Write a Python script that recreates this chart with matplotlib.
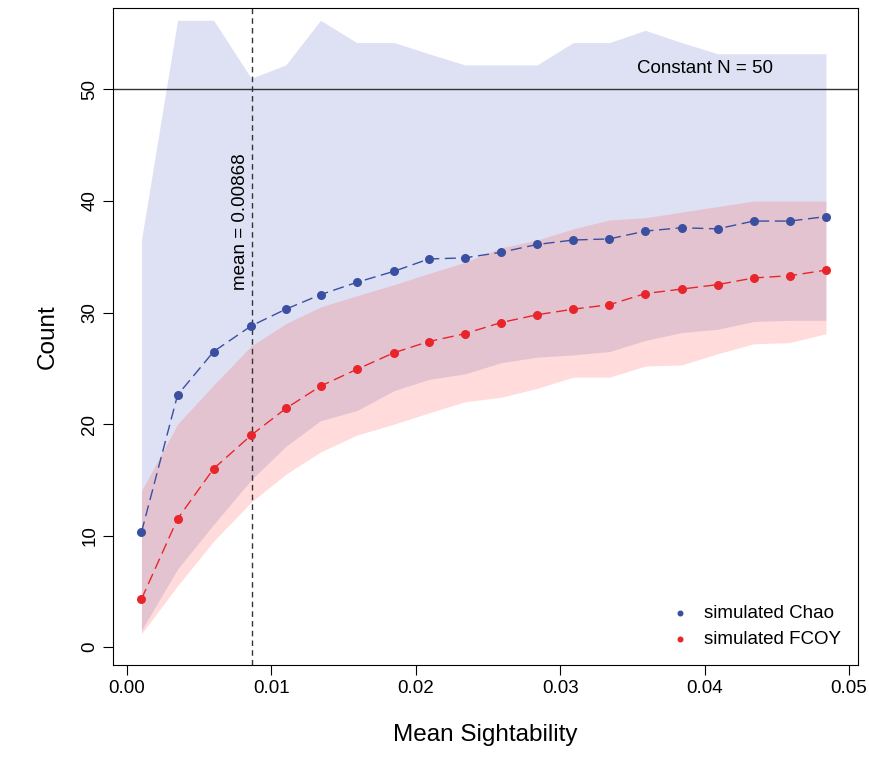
import matplotlib.pyplot as plt
import numpy as np

x = [0.0010, 0.0035, 0.0060, 0.0086, 0.0110, 0.0134, 0.0159, 0.0185, 0.0209, 0.0234,
     0.0259, 0.0284, 0.0309, 0.0334, 0.0359, 0.0384, 0.0409, 0.0434, 0.0459, 0.0484]
chao = [10.3, 22.6, 26.5, 28.8, 30.3, 31.6, 32.7, 33.7, 34.8, 34.9,
        35.4, 36.1, 36.5, 36.6, 37.3, 37.6, 37.5, 38.2, 38.2, 38.6]
fcoy = [4.3, 11.5, 16.0, 19.0, 21.4, 23.4, 24.9, 26.4, 27.4, 28.1,
        29.1, 29.8, 30.3, 30.7, 31.7, 32.1, 32.5, 33.1, 33.3, 33.8]
chao_hi = [36.5, 56.2, 56.2, 51.0, 52.2, 56.2, 54.2, 54.2, 53.2, 52.2,
           52.2, 52.2, 54.2, 54.2, 55.3, 54.2, 53.2, 53.2, 53.2, 53.2]
chao_lo = [1.5, 7.0, 11.0, 15.0, 18.0, 20.3, 21.2, 23.0, 24.0, 24.5,
           25.5, 26.0, 26.2, 26.5, 27.5, 28.2, 28.5, 29.2, 29.3, 29.3]
fcoy_hi = [14.0, 20.0, 23.5, 27.0, 29.0, 30.5, 31.5, 32.5, 33.5, 34.5,
           35.8, 36.5, 37.5, 38.3, 38.5, 39.0, 39.5, 40.0, 40.0, 40.0]
fcoy_lo = [1.2, 5.5, 9.5, 13.0, 15.5, 17.5, 19.0, 20.0, 21.0, 22.0,
           22.4, 23.2, 24.2, 24.2, 25.2, 25.3, 26.3, 27.2, 27.3, 28.1]
mean_s = 0.00868
N = 50

plt.rcParams['font.family'] = 'Liberation Sans'
fig = plt.figure(figsize=(8.7, 7.76), dpi=100)
ax = fig.add_axes([113/870, 111/776, 745/870, 657/776])

ax.fill_between(x, chao_lo, chao_hi, color=(0.25, 0.3, 0.72), alpha=0.17, lw=0)
ax.fill_between(x, fcoy_lo, fcoy_hi, color=(1.0, 0.3, 0.3), alpha=0.2, lw=0)

blue = '#3a4fa0'
red = '#e8252a'
ax.plot(x, chao, color=blue, lw=1, dashes=(8, 4))
ax.plot(x, fcoy, color=red, lw=1, dashes=(8, 4))
ax.scatter(x, chao, s=30, color=blue, zorder=3, label='simulated Chao')
ax.scatter(x, fcoy, s=30, color=red, zorder=3, label='simulated FCOY')

ax.axhline(N, color='#333333', lw=1)
ax.text(0.0400, N + 1.9, 'Constant N = 50', ha='center', va='center', fontsize=13.5)
ax.axvline(mean_s, color='#333333', lw=1, ls=(0, (4, 3)))
ax.text(mean_s - 0.0002, 32, 'mean = 0.00868', rotation=90, ha='right', va='bottom', fontsize=13.5)

ax.set_xlim(-0.00097, 0.05062)
ax.set_ylim(-1.6, 57.3)
ax.set_xticks([0, 0.01, 0.02, 0.03, 0.04, 0.05])
ax.set_xticklabels(['0.00', '0.01', '0.02', '0.03', '0.04', '0.05'])
ax.set_yticks([0, 10, 20, 30, 40, 50])
ax.tick_params(axis='y', labelrotation=90)
for lab in ax.get_yticklabels():
    lab.set_va('center')
ax.tick_params(labelsize=13.5, length=7, direction='out')
ax.set_xlabel('Mean Sightability', fontsize=17.5, labelpad=20)
ax.set_ylabel('Count', fontsize=17.5, labelpad=16)

ax.legend(loc='lower right', frameon=False, fontsize=13.5, handletextpad=0.3,
          markerscale=0.6, borderaxespad=0.5)

fig.savefig('out.png')
